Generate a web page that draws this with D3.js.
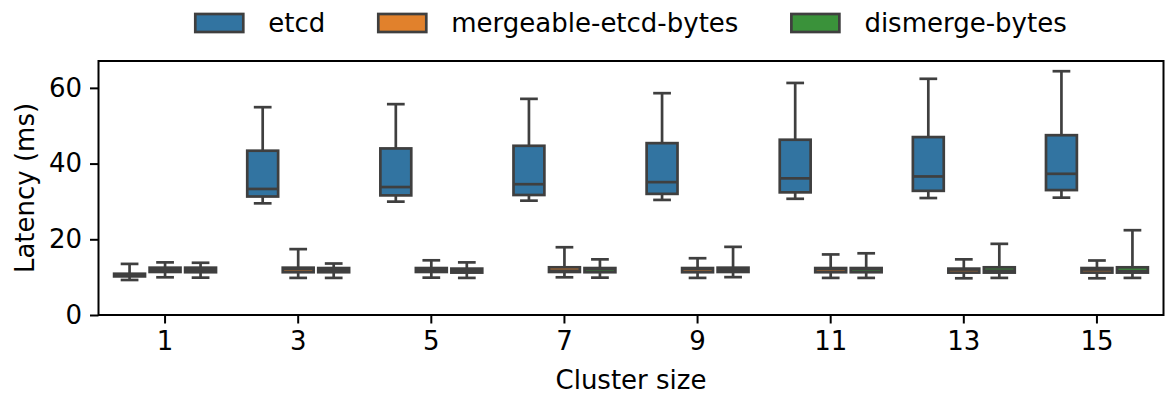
<!DOCTYPE html>
<html>
<head>
<meta charset="utf-8">
<script src="https://cdn.jsdelivr.net/npm/d3@7"></script>
<style>
  html, body { margin: 0; padding: 0; background: #fff; }
  svg { display: block; }
  text { font-family: "DejaVu Sans", sans-serif; fill: #000; }
</style>
</head>
<body>
<svg id="chart" width="1165" height="396"></svg>
<script>
// ---------- data ----------
const categories = ["1", "3", "5", "7", "9", "11", "13", "15"];
const seriesNames = ["etcd", "mergeable-etcd-bytes", "dismerge-bytes"];
const seriesColors = ["#3274a1", "#e1812c", "#3a923a"];
const yTicks = [0, 20, 40, 60];
// each entry: [lower whisker, Q1, median, Q3, upper whisker]
const etcdStats = [
  [9.25, 10.2, 10.5, 10.9, 13.5],
  [29.5, 31.3, 33.3, 43.4, 54.9],
  [29.95, 31.6, 33.8, 44.0, 55.7],
  [30.2, 31.7, 34.55, 44.7, 57.1],
  [30.4, 32.0, 35.1, 45.4, 58.6],
  [30.7, 32.4, 36.1, 46.3, 61.3],
  [30.9, 32.8, 36.6, 47.0, 62.4],
  [31.0, 33.0, 37.3, 47.5, 64.4]
];
const mergeableStats = [
  [9.96, 11.37, 11.9, 12.5, 13.9],
  [9.8, 11.3, 12.1, 12.5, 17.4],
  [9.87, 11.37, 11.9, 12.4, 14.45],
  [9.96, 11.37, 11.7, 12.6, 17.9],
  [9.8, 11.3, 12.1, 12.4, 15.0],
  [9.8, 11.3, 12.1, 12.4, 16.0],
  [9.7, 11.2, 12.0, 12.25, 14.7],
  [9.7, 11.2, 12.0, 12.4, 14.4]
];
const dismergeStats = [
  [9.87, 11.3, 11.9, 12.5, 13.8],
  [9.8, 11.3, 11.85, 12.4, 13.6],
  [9.8, 11.2, 11.7, 12.25, 13.9],
  [9.87, 11.3, 12.1, 12.4, 14.7],
  [10.0, 11.37, 11.9, 12.5, 18.0],
  [9.8, 11.3, 12.1, 12.4, 16.3],
  [9.8, 11.2, 11.7, 12.6, 18.8],
  [9.8, 11.2, 11.6, 12.6, 22.4]
];
const allStats = [etcdStats, mergeableStats, dismergeStats];

// ---------- layout ----------
const margin = { left: 98.5, right: 1163.5, top: 61, bottom: 315 };
const FONT = 26;
const gray = "#3f3f3f";
const LW = 2.7;

const svg = d3.select("#chart");

const x = d3.scaleBand().domain(categories).range([margin.left, margin.right]).paddingInner(0).paddingOuter(0);
const hue = d3.scaleBand().domain(seriesNames).range([x.bandwidth() * 0.1, x.bandwidth() * 0.9]);
const y = d3.scaleLinear().domain([0, 67.1]).range([margin.bottom, margin.top]);

// boxes
const boxW = hue.bandwidth() * 0.87;
const capW = hue.bandwidth() * 0.5;

const records = [];
seriesNames.forEach((s, si) => {
  categories.forEach((c, ci) => {
    const st = allStats[si][ci];
    records.push({ s, si, c, lo: st[0], q1: st[1], med: st[2], q3: st[3], hi: st[4] });
  });
});

const g = svg.append("g");
const boxes = g.selectAll("g.box").data(records).join("g").attr("class", "box")
  .attr("transform", d => `translate(${x(d.c) + hue(d.s) + hue.bandwidth() / 2},0)`);

// whiskers
boxes.append("line").attr("x1", 0).attr("x2", 0).attr("y1", d => y(d.q3)).attr("y2", d => y(d.hi))
  .attr("stroke", gray).attr("stroke-width", LW);
boxes.append("line").attr("x1", 0).attr("x2", 0).attr("y1", d => y(d.q1)).attr("y2", d => y(d.lo))
  .attr("stroke", gray).attr("stroke-width", LW);
// caps
boxes.append("line").attr("x1", -capW / 2).attr("x2", capW / 2).attr("y1", d => y(d.hi)).attr("y2", d => y(d.hi))
  .attr("stroke", gray).attr("stroke-width", LW);
boxes.append("line").attr("x1", -capW / 2).attr("x2", capW / 2).attr("y1", d => y(d.lo)).attr("y2", d => y(d.lo))
  .attr("stroke", gray).attr("stroke-width", LW);
// box
boxes.append("rect").attr("x", -boxW / 2).attr("width", boxW)
  .attr("y", d => y(d.q3)).attr("height", d => y(d.q1) - y(d.q3))
  .attr("fill", d => seriesColors[d.si]).attr("stroke", gray).attr("stroke-width", LW)
  .attr("stroke-linejoin", "miter");
// median
boxes.append("line").attr("x1", -boxW / 2).attr("x2", boxW / 2).attr("y1", d => y(d.med)).attr("y2", d => y(d.med))
  .attr("stroke", gray).attr("stroke-width", LW);

// ---------- axes ----------
const xAxis = d3.axisBottom(x).tickSize(8.5).tickPadding(8);
const yAxis = d3.axisLeft(y).tickValues(yTicks).tickSize(8.5).tickPadding(8);

const gx = svg.append("g").attr("transform", `translate(0,${margin.bottom})`).call(xAxis);
const gy = svg.append("g").attr("transform", `translate(${margin.left},0)`).call(yAxis);
[gx, gy].forEach(a => {
  a.select(".domain").remove();
  a.selectAll(".tick line").attr("stroke", "#000").attr("stroke-width", 2);
  a.selectAll(".tick text").attr("font-size", FONT).attr("font-family", "DejaVu Sans").attr("fill", "#000");
});

// frame (all four spines)
svg.append("rect").attr("x", margin.left).attr("y", margin.top)
  .attr("width", margin.right - margin.left).attr("height", margin.bottom - margin.top)
  .attr("fill", "none").attr("stroke", "#000").attr("stroke-width", 2);

// axis labels
svg.append("text").attr("x", (margin.left + margin.right) / 2).attr("y", 389)
  .attr("text-anchor", "middle").attr("font-size", FONT).text("Cluster size");
svg.append("text").attr("transform", `translate(34,${(margin.top + margin.bottom) / 2}) rotate(-90)`)
  .attr("text-anchor", "middle").attr("font-size", FONT).text("Latency (ms)");

// ---------- legend ----------
const leg = svg.append("g");
const patchW = 48, patchH = 18, textGap = 73, colGap = 53;
const items = leg.selectAll("g").data(seriesNames).join("g");
items.append("rect").attr("width", patchW).attr("height", patchH).attr("y", 23 - patchH / 2)
  .attr("fill", (d, i) => seriesColors[i]).attr("stroke", gray).attr("stroke-width", LW);
items.append("text").attr("x", textGap).attr("y", 32).attr("font-size", FONT).text(d => d);
let cx = 0;
const offsets = [];
items.each(function () {
  offsets.push(cx);
  const tw = d3.select(this).select("text").node().getComputedTextLength();
  cx += textGap + tw + colGap;
});
const totalW = cx - colGap;
const startX = (margin.left + margin.right) / 2 - totalW / 2;
items.attr("transform", (d, i) => `translate(${startX + offsets[i]},0)`);
</script>
</body>
</html>
